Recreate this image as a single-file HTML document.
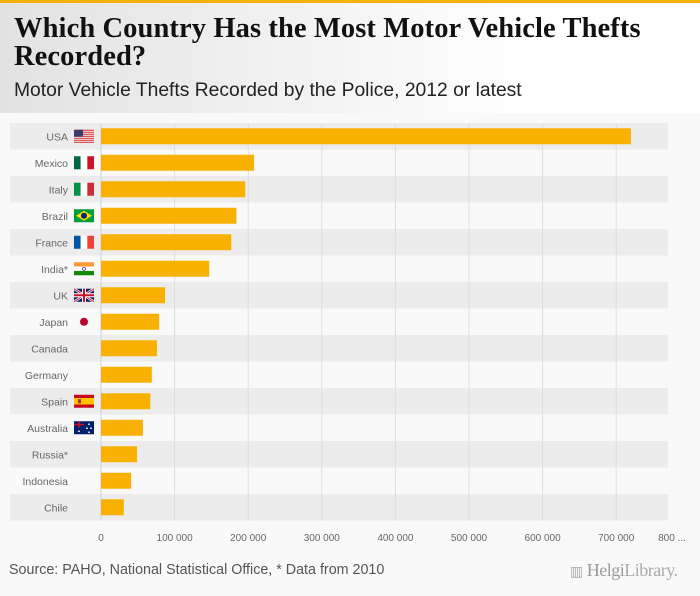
<!DOCTYPE html>
<html><head><meta charset="utf-8"><style>
body{margin:0;width:700px;height:596px;overflow:hidden;background:#f9f9f9;font-family:"Liberation Sans",sans-serif}
#hdr{position:absolute;left:0;top:0;width:700px;height:113px;background:linear-gradient(90deg,#e2e2e2 0%,#f3f3f3 45%,#fff 75%)}
#bar{position:absolute;left:0;top:0;width:700px;height:3px;background:#f8b100}
h1{position:absolute;left:14px;top:15px;margin:0;font:bold 28.5px/28px "Liberation Serif",serif;color:#111;letter-spacing:0.1px}
#sub{position:absolute;left:14px;top:80px;font-size:19.3px;color:#222}
#src{position:absolute;left:9px;top:562px;font-size:14.3px;color:#555}
#logo{position:absolute;left:570px;top:560px;font:18px "Liberation Serif",serif;color:#aaa;letter-spacing:-0.5px}
</style></head><body>
<div id="hdr"></div>
<div id="bar"></div>
<h1>Which Country Has the Most Motor Vehicle Thefts<br>Recorded?</h1>
<div id="sub">Motor Vehicle Thefts Recorded by the Police, 2012 or latest</div>
<svg id="chart" width="700" height="596" style="position:absolute;left:0;top:0"></svg>
<div id="src">Source: PAHO, National Statistical Office, * Data from 2010</div>
<div id="logo"><span style="font-size:14px">▥</span> <b style="font-weight:normal;color:#999">Helgi</b>Library.</div>
<script>
const categories=["USA","Mexico","Italy","Brazil","France","India*","UK","Japan","Canada","Germany","Spain","Australia","Russia*","Indonesia","Chile"];
const values=[720000,208000,196000,184000,177000,147000,87000,79000,76000,69000,67000,57000,49000,41000,31000];
const tickValues=[0,100000,200000,300000,400000,500000,600000,700000,800000];
const tickLabels=["0","100 000","200 000","300 000","400 000","500 000","600 000","700 000","800 ..."];
const flags=["us","mx","it","br","fr","in","uk","jp","","","es","au","","",""];
const svg=document.getElementById('chart');const NS="http://www.w3.org/2000/svg";
const x0=101,pxPer=73.6/100000,top0=123,rowH=26.5;
const xs=v=>x0+v*pxPer;
function mk(t,a,p){const e=document.createElementNS(NS,t);for(const k in a)e.setAttribute(k,a[k]);(p||svg).appendChild(e);return e;}
categories.forEach((c,i)=>{if(i%2===0){const r=mk('rect',{x:10,y:top0+i*rowH,width:680,height:rowH,fill:'#ececec'});

}});
mk('rect',{x:668,y:top0,width:22,height:rowH*15,fill:'#f9f9f9'});
tickValues.forEach((v,i)=>{if(i<8){const l=mk('line',{x1:xs(v),x2:xs(v),y1:top0,y2:top0+rowH*15,stroke:i?'#dedede':'#c8d4e8','stroke-width':1});

}
const t=mk('text',{x:i===8?Math.min(xs(v),672):xs(v),y:541,'text-anchor':'middle','font-size':10,fill:'#666'});t.textContent=tickLabels[i];

});
function flag(k,x,y){const g=mk('g',{});const w=20,h=13;
if(k==='us'){mk('rect',{x,y,width:w,height:h,fill:'#fff'},g);for(let s=0;s<7;s++)mk('rect',{x,y:y+s*h/6.5,width:w,height:h/13,fill:'#c22'},g);mk('rect',{x,y,width:9,height:7,fill:'#3c3b6e'},g);}
else if(['mx','it','fr'].includes(k)){const c={mx:['#006847','#fff','#ce1126'],it:['#009246','#fff','#ce2b37'],fr:['#0055a4','#fff','#ef4135']}[k];c.forEach((f,j)=>mk('rect',{x:x+j*w/3,y,width:w/3,height:h,fill:f},g));}
else if(k==='br'){mk('rect',{x,y,width:w,height:h,fill:'#009c3b'},g);mk('polygon',{points:`${x+10},${y+1.5} ${x+18},${y+6.5} ${x+10},${y+11.5} ${x+2},${y+6.5}`,fill:'#ffdf00'},g);mk('circle',{cx:x+10,cy:y+6.5,r:3,fill:'#002776'},g);}
else if(k==='in'){['#f93','#fff','#138808'].forEach((f,j)=>mk('rect',{x,y:y+j*h/3,width:w,height:h/3,fill:f},g));mk('circle',{cx:x+10,cy:y+6.5,r:1.5,fill:'none',stroke:'#008',"stroke-width":0.6},g);}
else if(k==='uk'){mk('rect',{x,y,width:w,height:h,fill:'#012169'},g);mk('path',{d:`M${x} ${y}L${x+w} ${y+h}M${x+w} ${y}L${x} ${y+h}`,stroke:'#fff','stroke-width':2.5},g);mk('path',{d:`M${x} ${y}L${x+w} ${y+h}M${x+w} ${y}L${x} ${y+h}`,stroke:'#c8102e','stroke-width':1},g);
mk('path',{d:`M${x+10} ${y}V${y+h}M${x} ${y+6.5}H${x+w}`,stroke:'#fff','stroke-width':4},g);mk('path',{d:`M${x+10} ${y}V${y+h}M${x} ${y+6.5}H${x+w}`,stroke:'#c8102e','stroke-width':2},g);}
else if(k==='jp'){mk('circle',{cx:x+10,cy:y+6.5,r:4,fill:'#bc002d'},g);}
else if(k==='es'){mk('rect',{x,y,width:w,height:h,fill:'#c60b1e'},g);mk('rect',{x,y:y+3.25,width:w,height:6.5,fill:'#ffc400'},g);mk('rect',{x:x+4,y:y+4.5,width:3,height:4,fill:'#a33'},g);}
else if(k==='au'){mk('rect',{x,y,width:w,height:h,fill:'#012169'},g);mk('path',{d:`M${x+5} ${y}V${y+6.5}M${x} ${y+3.2}H${x+10}`,stroke:'#c8102e','stroke-width':1.5},g);[[15,3],[13,7],[17,7],[15,11],[5,10]].forEach(p=>mk('circle',{cx:x+p[0],cy:y+p[1],r:0.9,fill:'#fff'},g));}
return g;}
categories.forEach((c,i)=>{const cy=top0+i*rowH+rowH/2;
const t=mk('text',{x:68,y:cy+4,'text-anchor':'end','font-size':10.5,fill:'#666'});t.textContent=c;


if(flags[i]){const f=flag(flags[i],74,cy-6.5);
}
const b=mk('rect',{x:x0,y:cy-8,width:xs(values[i])-x0,height:16,fill:'#f8b100'});

});
</script>
</body></html>
